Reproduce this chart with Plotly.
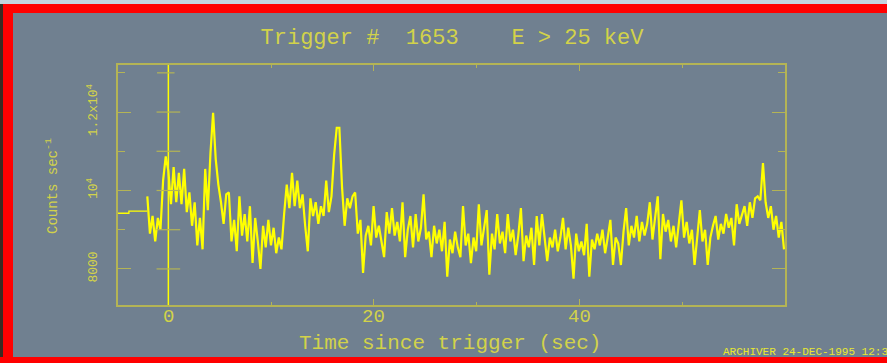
import numpy as np
import plotly.graph_objects as go

# ---------------- data ----------------
pre_times = [-5.12, -3.84]
pre_counts = [9420, 9475]

bin_start = -2.048
bin_width = 0.256
counts = [
    9850, 8900, 9350, 8700, 9300, 9000, 10250, 10870, 10500, 9650,
    10600, 9700, 10450, 9650, 10550, 9450, 9950, 9100, 9700, 8600,
    9300, 8500, 10550, 9500, 10950, 11980, 10800, 10150, 9700, 9150,
    9900, 9950, 8700, 9250, 8450, 9850, 8850, 9400, 8700, 9600,
    8150, 9300, 8700, 8000, 9100, 8550, 9250, 8600, 9050, 8400,
    8800, 8500, 9400, 10150, 9550, 10450, 9600, 10250, 9550, 9900,
    9100, 8450, 9800, 9350, 9700, 9150, 9600, 9350, 10250, 9450,
    9850, 10900, 11600, 11600, 10100, 9100, 9800, 9550, 9850, 9950,
    8900, 9250, 7900, 8850, 9100, 8600, 9600, 8800, 9100, 8700,
    8300, 9450, 8900, 9550, 8850, 9200, 8700, 9700, 8300, 9000,
    9350, 8550, 9400, 8700, 9050, 9900, 8750, 8950, 8300, 9100,
    8650, 9000, 8450, 9200, 7800, 8750, 8400, 8950, 8550, 8300,
    9600, 8600, 8900, 8150, 8800, 8450, 9650, 8600, 9100, 9500,
    7850, 8900, 8500, 9400, 8650, 8950, 8400, 9400, 8700, 9000,
    8350, 8850, 9550, 8200, 8850, 8550, 9050, 8100, 9350, 8600,
    9400, 8700, 8200, 8800, 8550, 9000, 8450, 8800, 9300, 8500,
    9050, 8600, 7750, 8900, 8450, 8700, 8350, 9150, 7800, 8750,
    8500, 8900, 8600, 9000, 8400, 8800, 9250, 8100, 8800, 8650,
    8100, 8950, 9550, 8600, 9100, 8800, 9350, 8700, 9200, 8850,
    9150, 9700, 8750, 9300, 9850, 8250, 9400, 8950, 9250, 8700,
    9100, 8550, 9200, 9750, 8800, 9200, 8650, 9000, 8100, 8800,
    9500, 8700, 9000, 8100, 8800, 9100, 9350, 8750, 9150, 8900,
    9400, 9050, 9300, 8600, 9650, 9150, 9400, 9600, 9100, 9700,
    9300, 9800, 9850, 9750, 10700, 9700, 9300, 9600, 9000, 9350,
    8800, 9200, 8500,
]

x_major = [0, 20, 40]
x_minor = [10, 30, 50]
x_ticklabels = ["0", "20", "40"]
y_major = [8000, 10000, 12000]
y_minor = [9000, 11000, 13000]
y_ticklabels = ["8000", "10<sup>4</sup>", "1.2x10<sup>4</sup>"]

title_text = "Trigger #\u00a0\u00a01653\u00a0\u00a0\u00a0\u00a0E > 25 keV"
x_title = "Time since trigger (sec)"
y_title = "Counts sec<sup>-1</sup>"
stamp = "ARCHIVER 24-DEC-1995 12:30"

# ---------------- figure ----------------
W, H = 887, 363
L, R, T, B = 118, 785, 65, 305
BG = "#708090"
FRAME = "#b4b455"
TXT = "#d2d24a"
DATA = "#ffff00"

main_times = bin_start + bin_width * np.arange(len(counts))

fig = go.Figure()
fig.add_trace(go.Scatter(x=list(pre_times) + [main_times[0]], y=list(pre_counts) + [pre_counts[-1]],
                         mode="lines", line=dict(color=DATA, width=1.3, shape="hv"),
                         hoverinfo="skip", showlegend=False))
fig.add_trace(go.Scatter(x=main_times, y=counts, mode="lines",
                         line=dict(color=DATA, width=2.2, shape="linear"),
                         hoverinfo="skip", showlegend=False))

def px_x(p):
    return (p - L) / (R - L)

def px_y(p):
    return (B - p) / (B - T)

shapes = []
def rect(x0, y0, x1, y1, color):
    shapes.append(dict(type="rect", xref="paper", yref="paper", x0=px_x(x0), x1=px_x(x1),
                       y0=px_y(y1), y1=px_y(y0), fillcolor=color, line=dict(width=0), layer="below"))

rect(0, 0, W, 4, "#c4d4de")
rect(0, 4, W, 13, "#ff0000")
rect(0, 4, 3, H, "#3b2a22")
rect(3, 4, 13, H, "#ff0000")
rect(0, 357, W, H, "#ff0000")

shapes.append(dict(type="line", xref="x", yref="paper", x0=0, x1=0, y0=0, y1=1,
                   line=dict(color=DATA, width=1.5)))
for v in y_major + y_minor[:2]:
    shapes.append(dict(type="line", xref="x", yref="y", x0=-1.15, x1=1.15, y0=v, y1=v,
                       line=dict(color=FRAME, width=1.2)))
shapes.append(dict(type="line", xref="x", yref="y", x0=-1.1, x1=0.6, y0=y_minor[2], y1=y_minor[2],
                   line=dict(color=FRAME, width=1.2)))

mono = "Liberation Mono"

annotations = [
    dict(text=lab, xref="x", yref="paper", x=v, y=px_y(317),
         xanchor="center", yanchor="middle", showarrow=False,
         font=dict(family=mono, size=19, color=TXT))
    for v, lab in zip(x_major, x_ticklabels)
]
annotations += [
    dict(text=x_title, xref="paper", yref="paper", x=px_x(450), y=px_y(343),
         xanchor="center", yanchor="middle", showarrow=False,
         font=dict(family=mono, size=21, color=TXT)),
    dict(text=y_title, xref="paper", yref="paper", x=px_x(52), y=px_y(186),
         xanchor="center", yanchor="middle", showarrow=False, textangle=-90,
         font=dict(family=mono, size=14, color=TXT)),
    dict(text=stamp, xref="paper", yref="paper", x=px_x(721), y=px_y(352),
         xanchor="left", yanchor="middle", showarrow=False,
         font=dict(family=mono, size=11, color="#e8e830")),
]

fig.update_layout(
    width=W, height=H,
    margin=dict(l=L, r=W - R, t=T, b=H - B, pad=0),
    paper_bgcolor=BG, plot_bgcolor=BG,
    shapes=shapes,
    title=dict(text=title_text, x=452 / W, xanchor="center", xref="container",
               y=1 - 36 / H, yanchor="middle", yref="container",
               font=dict(family=mono, size=22, color=TXT)),
    xaxis=dict(range=[-4.9, 60.0], showgrid=False, zeroline=False,
               showline=True, linecolor=FRAME, linewidth=1.5, mirror="ticks",
               ticks="inside", ticklen=6, tickwidth=1.2, tickcolor=FRAME,
               tickvals=x_major, showticklabels=False,
               minor=dict(tickvals=x_minor, ticks="inside", ticklen=3, tickwidth=1.2, tickcolor=FRAME)),
    yaxis=dict(range=[7080, 13200], showgrid=False, zeroline=False,
               showline=True, linecolor=FRAME, linewidth=1.5, mirror="ticks",
               ticks="inside", ticklen=13, tickwidth=1.2, tickcolor=FRAME,
               tickvals=y_major, ticktext=y_ticklabels, tickangle=-90, ticklabelstandoff=14,
               tickfont=dict(family=mono, size=13, color=TXT),
               minor=dict(tickvals=y_minor, ticks="inside", ticklen=7, tickwidth=1.2, tickcolor=FRAME)),
    annotations=annotations,
)

fig.write_html("out.html")
